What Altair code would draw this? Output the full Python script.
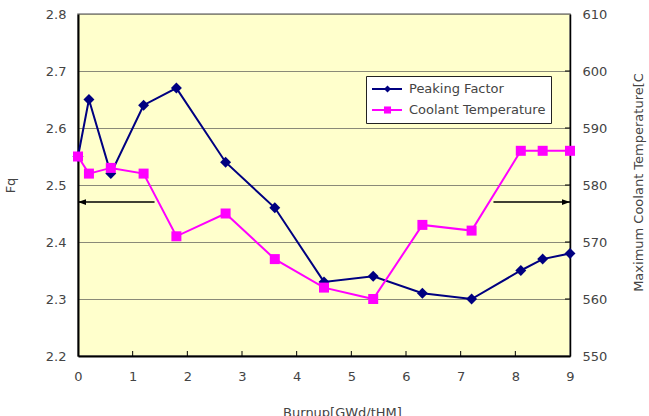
import altair as alt
import pandas as pd

# ---- data ----
burnup = [0.0, 0.2, 0.6, 1.2, 1.8, 2.7, 3.6, 4.5, 5.4, 6.3, 7.2, 8.1, 8.5, 9.0]
peaking_factor = [2.55, 2.65, 2.52, 2.64, 2.67, 2.54, 2.46, 2.33, 2.34, 2.31, 2.30, 2.35, 2.37, 2.38]
coolant_temp = [585, 582, 583, 582, 571, 575, 567, 562, 560, 573, 572, 586, 586, 586]

series_names = ["Peaking Factor", "Coolant Temperature"]
series_colors = ["#000080", "#FF00FF"]
series_shapes = ["diamond", "square"]

x_ticks = [0, 1, 2, 3, 4, 5, 6, 7, 8, 9]
fq_ticks = [2.2, 2.3, 2.4, 2.5, 2.6, 2.7, 2.8]
temp_ticks = [550, 560, 570, 580, 590, 600, 610]

arrow_from = [1.4, 7.6]
arrow_to = [0.0, 9.0]
arrow_angle = [180, 0]
arrow_level = 2.47

# ---- layout / style ----
W, H = 492, 342
FONT = "DejaVu Sans"
TXT = "#444444"
x_dom = [0, 9]
fq_dom = [2.2, 2.8]
t_dom = [550, 610]
TICK_PX = 5

pf_df = pd.DataFrame({"burnup": burnup, "value": peaking_factor, "series": series_names[0]})
ct_df = pd.DataFrame({"burnup": burnup, "value": coolant_temp, "series": series_names[1]})
arrow_df = pd.DataFrame({"x": arrow_from, "x2": arrow_to, "angle": arrow_angle,
                         "y": [arrow_level] * len(arrow_from)})
xt_df = pd.DataFrame({"x": x_ticks[1:-1]})
xt_df["y"] = fq_dom[0]
xt_df["y2"] = fq_dom[0] + (fq_dom[1] - fq_dom[0]) * TICK_PX / H
rt_df = pd.DataFrame({"y": temp_ticks[1:-1]})
rt_df["x"] = x_dom[1]
rt_df["x2"] = x_dom[1] - (x_dom[1] - x_dom[0]) * TICK_PX / W

x_enc = alt.X(
    "burnup:Q",
    scale=alt.Scale(domain=x_dom, nice=False, zero=False),
    axis=alt.Axis(values=x_ticks, format="d", title="Burnup[GWd/tHM]", grid=False, ticks=False,
                  labelFlush=False, domainColor="black", domainWidth=2, labelPadding=14,
                  titleX=264, titleY=50, titleAlign="center", titleBaseline="top"),
)
fq_scale = alt.Scale(domain=fq_dom, nice=False, zero=False)
t_scale = alt.Scale(domain=t_dom, nice=False, zero=False)

y_pf = alt.Y(
    "value:Q", scale=fq_scale,
    axis=alt.Axis(orient="left", values=fq_ticks, format=".1f", title="Fq",
                  grid=True, gridColor="#8a8a78", gridWidth=1, ticks=False,
                  domainColor="black", domainWidth=2, labelPadding=12, labelFlush=False,
                  titleAngle=270, titleX=-68, titleY=H / 2,
                  titleAlign="center", titleBaseline="middle"),
)
y_ct = alt.Y(
    "value:Q", scale=t_scale,
    axis=alt.Axis(orient="right", values=temp_ticks, title="Maximum Coolant Temperature[C",
                  grid=False, ticks=False, domainColor="black", domainWidth=1.5,
                  labelPadding=12, labelFlush=False, titleAngle=270, titleX=68, titleY=H / 2 - 3,
                  titleAlign="center", titleBaseline="middle"),
)

line_legend = alt.Legend(
    orient="none", legendX=288, legendY=62, title=None, symbolType="stroke",
    symbolSize=900, symbolStrokeWidth=2, labelOffset=6, labelFont=FONT,
    labelFontSize=13, labelColor=TXT, fillColor="white", strokeColor="#222222",
    padding=5, clipHeight=16, rowPadding=5, zindex=0,
)
point_legend = alt.Legend(
    orient="none", legendX=298, legendY=62, title=None, symbolSize=50,
    symbolStrokeWidth=0, labelExpr="''", labelFontSize=13, padding=5,
    clipHeight=16, rowPadding=5, zindex=1,
)

stroke_enc = alt.Stroke("series:N", scale=alt.Scale(domain=series_names, range=series_colors),
                        legend=line_legend)
fill_enc = alt.Fill("series:N", sort="descending", scale=alt.Scale(range=series_colors),
                    legend=point_legend)
shape_enc = alt.Shape("series:N", sort="descending", scale=alt.Scale(range=series_shapes),
                      legend=point_legend)

pf_line = alt.Chart(pf_df).mark_line(strokeWidth=2).encode(x=x_enc, y=y_pf, stroke=stroke_enc)
pf_pts = alt.Chart(pf_df).mark_point(filled=True, size=120, opacity=1, strokeWidth=0).encode(
    x=x_enc, y=y_pf, fill=fill_enc, shape=shape_enc)

arrow_lines = alt.Chart(arrow_df).mark_rule(color="black", strokeWidth=1.5).encode(
    x="x:Q", x2="x2:Q", y="y:Q")
arrow_heads = alt.Chart(arrow_df).mark_point(
    shape="M0,0L-2,-0.7L-2,0.7Z", filled=True, color="black", size=64, opacity=1
).encode(x="x2:Q", y="y:Q", angle=alt.Angle("angle:Q", scale=None))
x_inner_ticks = alt.Chart(xt_df).mark_rule(color="black", strokeWidth=1).encode(
    x="x:Q", y="y:Q", y2="y2:Q")

pf_layer = alt.layer(pf_line, pf_pts, x_inner_ticks, arrow_lines, arrow_heads)

ct_line = alt.Chart(ct_df).mark_line(strokeWidth=2).encode(x=x_enc, y=y_ct, stroke=stroke_enc)
ct_pts = alt.Chart(ct_df).mark_point(filled=True, size=100, opacity=1, strokeWidth=0).encode(
    x=x_enc, y=y_ct, fill=fill_enc, shape=shape_enc)
r_inner_ticks = alt.Chart(rt_df).mark_rule(color="black", strokeWidth=1).encode(
    x="x:Q", x2="x2:Q", y="y:Q")
ct_layer = alt.layer(ct_line, ct_pts, r_inner_ticks)

chart = (
    alt.layer(pf_layer, ct_layer)
    .resolve_scale(y="independent")
    .properties(width=W, height=H, background="white",
                autosize=alt.AutoSizeParams(type="none"),
                padding={"left": 78, "top": 14, "right": 79, "bottom": 60})
    .configure_view(stroke="#888888", strokeWidth=1.5, fill="#FFFFCC")
    .configure_axis(labelFont=FONT, labelFontSize=13, labelColor=TXT,
                    titleFont=FONT, titleFontSize=13, titleColor=TXT, titleFontWeight="normal")
)

chart.save("out.html", embed_options={"renderer": "svg", "actions": False})
